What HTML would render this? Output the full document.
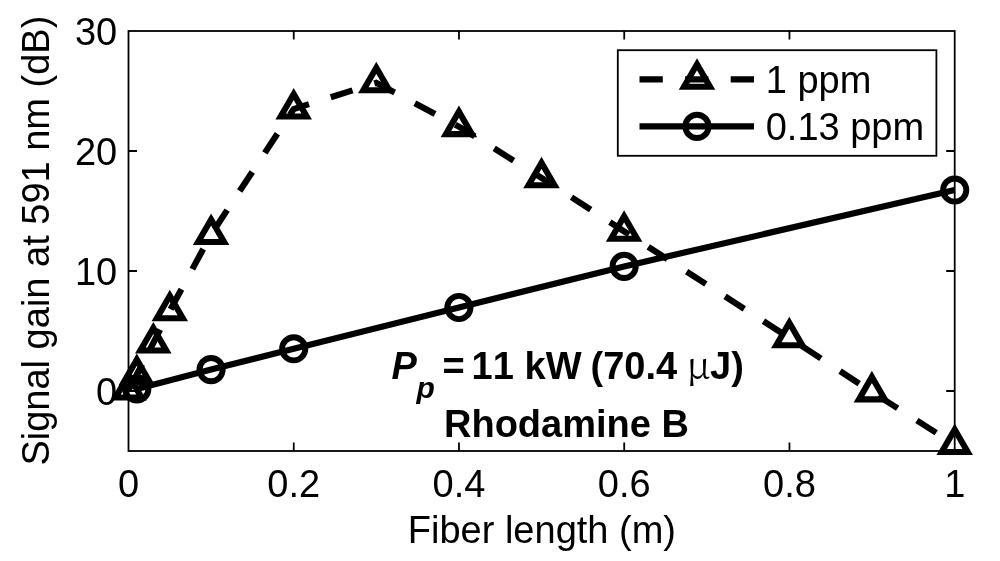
<!DOCTYPE html>
<html><head><meta charset="utf-8"><title>Signal gain vs fiber length</title>
<style>html,body{margin:0;padding:0;background:#fff}svg{display:block}text{font-family:"Liberation Sans",Arial,sans-serif;fill:#000;font-kerning:none}</style></head><body>
<svg width="1000" height="561" viewBox="0 0 1000 561">
<rect width="1000" height="561" fill="#fff"/>
<g stroke="#000" stroke-width="1.8" fill="none" stroke-linecap="butt">
<rect x="128.5" y="31.0" width="826.20" height="420.0"/>
<path d="M293.74,451.0 v-8.5 M293.74,31.0 v8.5"/>
<path d="M458.98,451.0 v-8.5 M458.98,31.0 v8.5"/>
<path d="M624.22,451.0 v-8.5 M624.22,31.0 v8.5"/>
<path d="M789.46,451.0 v-8.5 M789.46,31.0 v8.5"/>
<path d="M128.5,391.00 h8.5 M954.7,391.00 h-8.5"/>
<path d="M128.5,271.00 h8.5 M954.7,271.00 h-8.5"/>
<path d="M128.5,151.00 h8.5 M954.7,151.00 h-8.5"/>
</g>
<g font-size="38" text-anchor="middle">
<text x="128.50" y="497.2">0</text>
<text x="293.74" y="497.2">0.2</text>
<text x="458.98" y="497.2">0.4</text>
<text x="624.22" y="497.2">0.6</text>
<text x="789.46" y="497.2">0.8</text>
<text x="954.70" y="497.2">1</text>
</g>
<g font-size="38" text-anchor="end">
<text x="117.2" y="404.60">0</text>
<text x="117.2" y="284.60">10</text>
<text x="117.2" y="164.60">20</text>
<text x="117.2" y="44.60">30</text>
</g>
<text font-size="38" text-anchor="middle" x="541.9" y="542.9">Fiber length (m)</text>
<text font-size="38" text-anchor="middle" transform="translate(49.1,240.6) rotate(-90)">Signal gain at 591 nm (dB)</text>
<polyline points="136.80,388.90 211.10,369.60 293.70,348.80 458.90,307.50 624.10,266.40 954.70,190.05" fill="none" stroke="#000" stroke-width="6.2" stroke-linejoin="miter"/>
<polyline points="128.50,390.00 136.80,374.60 153.30,343.00 169.80,310.70 211.10,234.50 293.70,109.00 376.30,82.80 458.90,126.60 541.50,177.80 624.10,231.30 789.30,337.80 871.90,391.90 954.70,444.50" fill="none" stroke="#000" stroke-width="6.2" stroke-dasharray="22.85 22.85" stroke-dashoffset="0.4" stroke-linejoin="miter"/>
<path d="M136.80,374.60 L142.12,364.41" fill="none" stroke="#000" stroke-width="6.2"/>
<g fill="none" stroke="#000" stroke-width="6.1" stroke-linejoin="miter" stroke-miterlimit="10">
<path d="M128.50,375.03 L141.47,397.49 L115.53,397.49 Z"/>
<path d="M136.80,359.63 L149.77,382.09 L123.83,382.09 Z"/>
<path d="M153.30,328.03 L166.27,350.49 L140.33,350.49 Z"/>
<path d="M169.80,295.73 L182.77,318.19 L156.83,318.19 Z"/>
<path d="M211.10,219.53 L224.07,241.99 L198.13,241.99 Z"/>
<path d="M293.70,94.03 L306.67,116.49 L280.73,116.49 Z"/>
<path d="M376.30,67.83 L389.27,90.29 L363.33,90.29 Z"/>
<path d="M458.90,111.63 L471.87,134.09 L445.93,134.09 Z"/>
<path d="M541.50,162.83 L554.47,185.29 L528.53,185.29 Z"/>
<path d="M624.10,216.33 L637.07,238.79 L611.13,238.79 Z"/>
<path d="M789.30,322.83 L802.27,345.29 L776.33,345.29 Z"/>
<path d="M871.90,376.93 L884.87,399.39 L858.93,399.39 Z"/>
<path d="M954.70,429.53 L967.67,451.99 L941.73,451.99 Z"/>
<circle cx="136.8" cy="388.9" r="11.6" stroke-width="5.9"/>
<circle cx="211.1" cy="369.6" r="11.6" stroke-width="5.9"/>
<circle cx="293.7" cy="348.8" r="11.6" stroke-width="5.9"/>
<circle cx="458.9" cy="307.5" r="11.6" stroke-width="5.9"/>
<circle cx="624.1" cy="266.4" r="11.6" stroke-width="5.9"/>
<circle cx="954.7" cy="190.05" r="11.6" stroke-width="5.9"/>
</g>
<rect x="617.8" y="50.2" width="318.60" height="105.60" fill="#fff" stroke="#000" stroke-width="1.8"/>
<path d="M639.5,79.3 H754" fill="none" stroke="#000" stroke-width="6.2" stroke-dasharray="23.3 22.3"/>
<path d="M639.5,126.4 H754" fill="none" stroke="#000" stroke-width="6.2"/>
<g fill="none" stroke="#000" stroke-width="6.1" stroke-linejoin="miter"><path d="M697.00,64.33 L709.97,86.79 L684.03,86.79 Z"/><circle cx="697.0" cy="126.4" r="11.6" stroke-width="5.9"/></g>
<text font-size="38" x="765.7" y="92.8">1 ppm</text>
<text font-size="38" x="765.7" y="140.1">0.13 ppm</text>
<g font-weight="bold">
<text font-size="38" x="391.5" y="379.2" font-style="italic">P</text>
<text font-size="30" x="416.4" y="398.4" font-style="italic">p</text>
<text font-size="38" x="442.5" y="379.2" >=</text>
<text font-size="38" x="471.5" y="379.2" >11</text>
<text font-size="38" x="524.5" y="379.2" >kW</text>
<text font-size="38" x="590.5" y="379.2" >(70.4</text>
<text font-size="38" x="710.0" y="379.2" >J)</text>
</g>
<text font-size="38" x="686.5" y="379.2" style="font-family:'Noto Serif CJK SC','Liberation Serif',serif">μ</text>
<text font-size="38" font-weight="bold" x="444" y="436.7">Rhodamine B</text>
</svg></body></html>
